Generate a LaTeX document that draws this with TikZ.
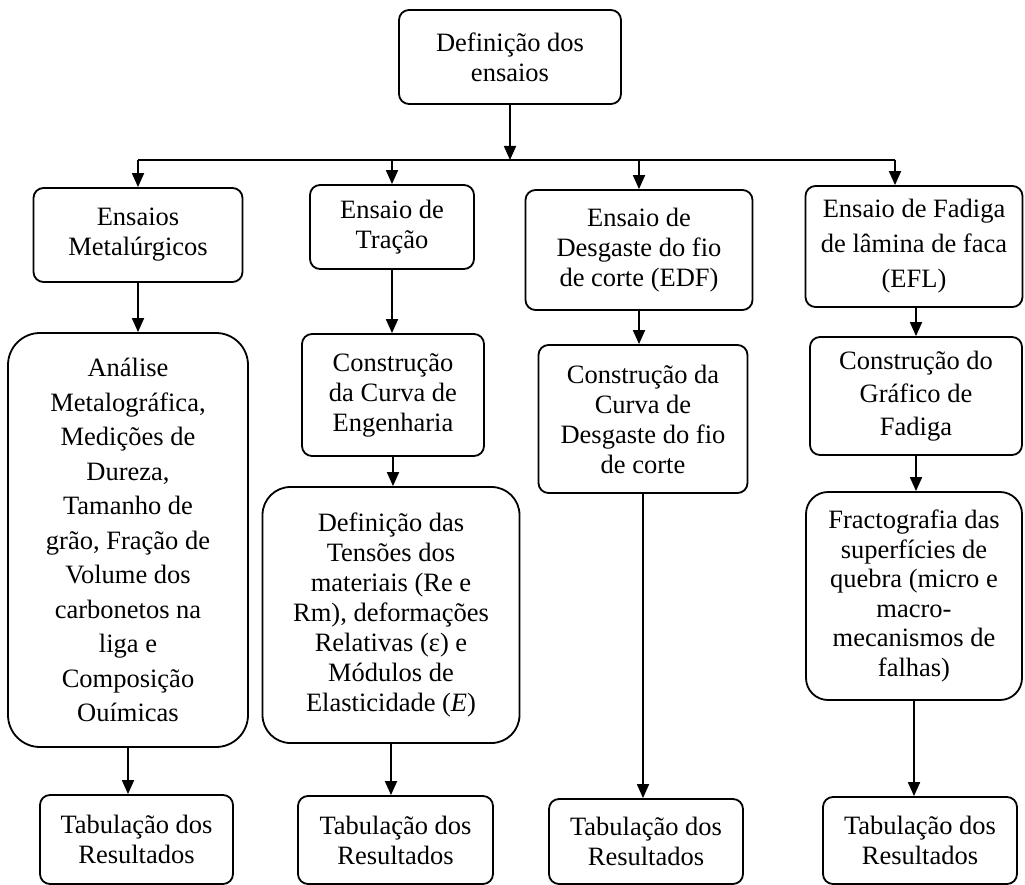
\documentclass[tikz,border=0pt]{standalone}
\usepackage{fontspec}
\setmainfont{Liberation Serif}
\usetikzlibrary{positioning}
\usetikzlibrary{arrows.meta}

\begin{document}
\begin{tikzpicture}[x=1pt, y=-1pt,
    box/.style={draw, line width=1.8pt, rounded corners=10pt, align=center, inner sep=2pt,
      font=\fontsize{26.5}{30}\selectfont},
    bigbox/.style={box, rounded corners=#1},
    arr/.style={line width=1.8pt, -{Triangle[length=14pt, width=12pt]}}]

    \useasboundingbox (0,0) rectangle (1025,885);

    % topo
    \node [box, minimum width=222pt, minimum height=94pt] (def) at (510,57) {Definição dos\\ensaios};
    \coordinate (j1) at (138,160);
    \coordinate (j2) at (392,160);
    \coordinate (j3) at (639,160);
    \coordinate (j4) at (895,160);

    % ensaios
    \node [box, minimum width=209pt, minimum height=94pt] (ens1) at (138,235) {Ensaios\\Metalúrgicos};
    \node [box, minimum width=164pt, minimum height=84pt] (ens2) at (392,227) {Ensaio de\\Tração};
    \node [box, minimum width=227pt, minimum height=120pt] (ens3) at (639,250) {Ensaio de\\Desgaste do fio\\de corte (EDF)};
    \node [box, minimum width=217pt, minimum height=121pt, font=\fontsize{26.5}{35}\selectfont] (ens4) at (914,246.5) {Ensaio de Fadiga\\de lâmina de faca\\(EFL)};

    % etapas
    \node [bigbox=32pt, minimum width=240pt, minimum height=414pt, font=\fontsize{26.5}{34.5}\selectfont] (met) at (128,540)
      {Análise\\Metalográfica,\\Medições de\\Dureza,\\Tamanho de\\grão, Fração de\\Volume dos\\carbonetos na\\liga e\\Composição\\Ouímicas};
    \node [box, minimum width=182pt, minimum height=122pt] (cur) at (393,395) {Construção\\da Curva de\\Engenharia};
    \node [bigbox=28pt, minimum width=257pt, minimum height=256pt] (ten) at (391,615)
      {Definição das\\Tensões dos\\materiais (Re e\\Rm), deformações\\Relativas (ε) e\\Módulos de\\Elasticidade (\textit{E})};
    \node [box, minimum width=209pt, minimum height=148pt] (des) at (643,419) {Construção da\\Curva de\\Desgaste do fio\\de corte};
    \node [box, minimum width=212pt, minimum height=118pt, font=\fontsize{26.5}{33}\selectfont] (gra) at (916,396) {Construção do\\Gráfico de\\Fadiga};
    \node [bigbox=22pt, minimum width=216pt, minimum height=208pt, font=\fontsize{26.5}{29.6}\selectfont] (fra) at (914,596)
      {Fractografia das\\superfícies de\\quebra (micro e\\macro-\\mecanismos de\\falhas)};

    % resultados
    \node [box, minimum width=193pt, minimum height=89pt] (tab1) at (136.5,839.5) {Tabulação dos\\Resultados};
    \node [box, minimum width=195pt, minimum height=88pt] (tab2) at (395.5,840) {Tabulação dos\\Resultados};
    \node [box, minimum width=194pt, minimum height=85pt] (tab3) at (646,841.5) {Tabulação dos\\Resultados};
    \node [box, minimum width=194pt, minimum height=87pt] (tab4) at (920,840.5) {Tabulação dos\\Resultados};

    % ligacoes
    \draw [arr] (def.south) -- (def.south |- j1);
    \draw [line width=1.8pt] (j1) -- (j4);
    \draw [arr] (j1) -- (j1 |- ens1.north);
    \draw [arr] (j2) -- (j2 |- ens2.north);
    \draw [arr] (j3) -- (j3 |- ens3.north);
    \draw [arr] (j4) -- (j4 |- ens4.north);

    \draw [arr] (ens1.south) -- (ens1.south |- met.north);
    \draw [arr] (met.south) -- (met.south |- tab1.north);
    \draw [arr] (ens2.south) -- (ens2.south |- cur.north);
    \draw [arr] (cur.south) -- (cur.south |- ten.north);
    \draw [arr] (ten.south) -- (ten.south |- tab2.north);
    \draw [arr] (ens3.south) -- (ens3.south |- des.north);
    \draw [arr] (des.south) -- (des.south |- tab3.north);
    \draw [arr] (gra.north |- ens4.south) -- (gra.north);
    \draw [arr] (gra.south) -- (gra.south |- fra.north);
    \draw [arr] (fra.south) -- (fra.south |- tab4.north);
\end{tikzpicture}
\end{document}
